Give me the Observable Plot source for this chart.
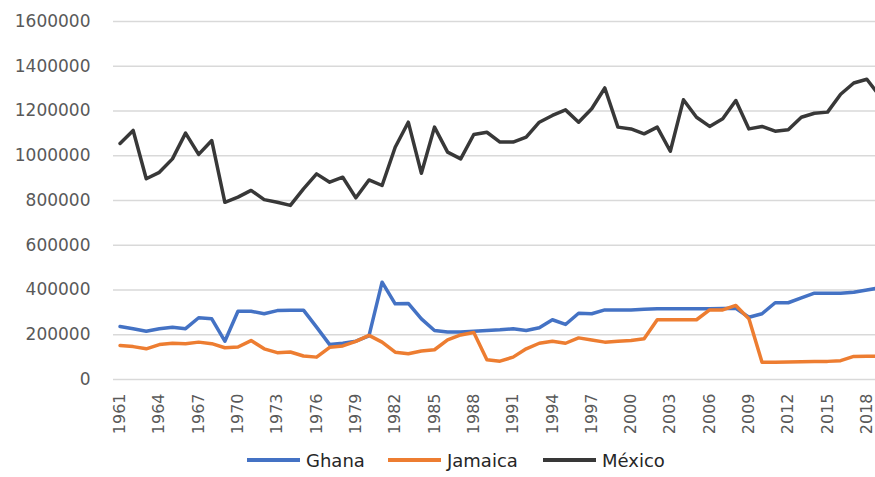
<!DOCTYPE html>
<html>
<head>
<meta charset="utf-8">
<script src="https://cdn.jsdelivr.net/npm/d3@7"></script>
<script src="https://cdn.jsdelivr.net/npm/@observablehq/plot@0.6"></script>
<style>
  html, body { margin: 0; padding: 0; background: #fff; }
  #wrap { width: 875px; height: 477px; overflow: hidden; position: relative; }
  #chart svg { overflow: hidden; display: block; }
  #legend { position: absolute; left: 0; top: 440px; width: 875px; height: 37px;
            font-family: "DejaVu Sans", sans-serif; font-size: 18px; color: #262626; }
  .item { position: absolute; top: 9px; height: 22px; display: flex; align-items: center; }
  .sw { width: 53px; height: 3.5px; margin-right: 6px; }
</style>
</head>
<body>
<div id="wrap">
  <div id="chart"></div>
  <div id="legend"></div>
</div>
<script>
const years = d3.range(1961, 2020);
const seriesNames = ["Ghana", "Jamaica", "México"];
const seriesColors = ["#4472C4", "#ED7D31", "#383838"];
const ghana = [237000,227000,216000,227000,234000,227000,276000,271000,171000,305000,
  305000,294000,308000,310000,310000,234000,156000,162000,171000,195000,
  435000,338000,340000,271000,219000,212000,212000,216000,219000,222000,
  227000,219000,231000,267000,246000,296000,294000,311000,311000,311000,
  314000,316000,316000,316000,316000,316000,317000,318000,278000,294000,
  343000,343000,365000,386000,386000,386000,390000,400000,410000];
const jamaica = [152000,147000,137000,156000,162000,160000,167000,160000,142000,145000,
  174000,137000,120000,123000,105000,100000,144000,150000,170000,197000,
  167000,122000,115000,127000,133000,177000,199000,210000,88000,82000,
  100000,137000,162000,171000,162000,186000,177000,167000,171000,174000,
  182000,267000,267000,267000,267000,311000,311000,331000,271000,77000,
  77000,78000,79000,80000,81000,84000,103000,104000,104000];
const mexico = [1055000,1113000,897000,926000,986000,1101000,1006000,1068000,792000,815000,
  845000,804000,792000,778000,852000,919000,882000,904000,812000,892000,
  867000,1038000,1150000,922000,1128000,1016000,986000,1095000,1105000,1061000,
  1061000,1083000,1150000,1180000,1205000,1150000,1210000,1303000,1128000,1120000,
  1098000,1128000,1020000,1250000,1172000,1131000,1165000,1247000,1120000,1131000,
  1110000,1116000,1172000,1190000,1195000,1275000,1325000,1342000,1265000];
const yTicks = d3.range(0, 1600001, 200000);
const xTicks = d3.range(1961, 2019, 3);

const seriesValues = [ghana, jamaica, mexico];
const rows = [];
seriesNames.forEach((name, i) => {
  years.forEach((yr, j) => rows.push({year: yr, value: seriesValues[i][j], country: name}));
});

const plot = Plot.plot({
  width: 875,
  height: 440,
  marginLeft: 113,
  marginRight: 0,
  marginTop: 21,
  marginBottom: 61,
  style: {fontFamily: "DejaVu Sans, sans-serif", color: "#595959", background: "#fff"},
  x: {domain: [1960.5, 2019.5], range: [113, 886]},
  y: {domain: [0, 1600000]},
  color: {domain: seriesNames, range: seriesColors},
  marks: [
    Plot.ruleY(yTicks, {stroke: "#d9d9d9", strokeWidth: 1.5}),
    Plot.axisY({ticks: yTicks, tickSize: 0, tickPadding: 23, tickFormat: d => String(d),
      fontSize: 17, label: null}),
    Plot.axisX({ticks: xTicks, tickSize: 0, tickPadding: 14, tickRotate: -90,
      tickFormat: d => String(d), fontSize: 16, label: null}),
    Plot.line(rows, {x: "year", y: "value", z: "country", stroke: "country",
      strokeWidth: 3.5, strokeLinejoin: "round", strokeLinecap: "round"})
  ]
});
document.getElementById("chart").appendChild(plot);

const lefts = [247, 388, 543];
const legend = document.getElementById("legend");
seriesNames.forEach((name, i) => {
  const it = document.createElement("div");
  it.className = "item";
  it.style.left = lefts[i] + "px";
  const sw = document.createElement("span");
  sw.className = "sw";
  sw.style.background = seriesColors[i];
  const tx = document.createElement("span");
  tx.textContent = name;
  it.appendChild(sw); it.appendChild(tx);
  legend.appendChild(it);
});
</script>
</body>
</html>
